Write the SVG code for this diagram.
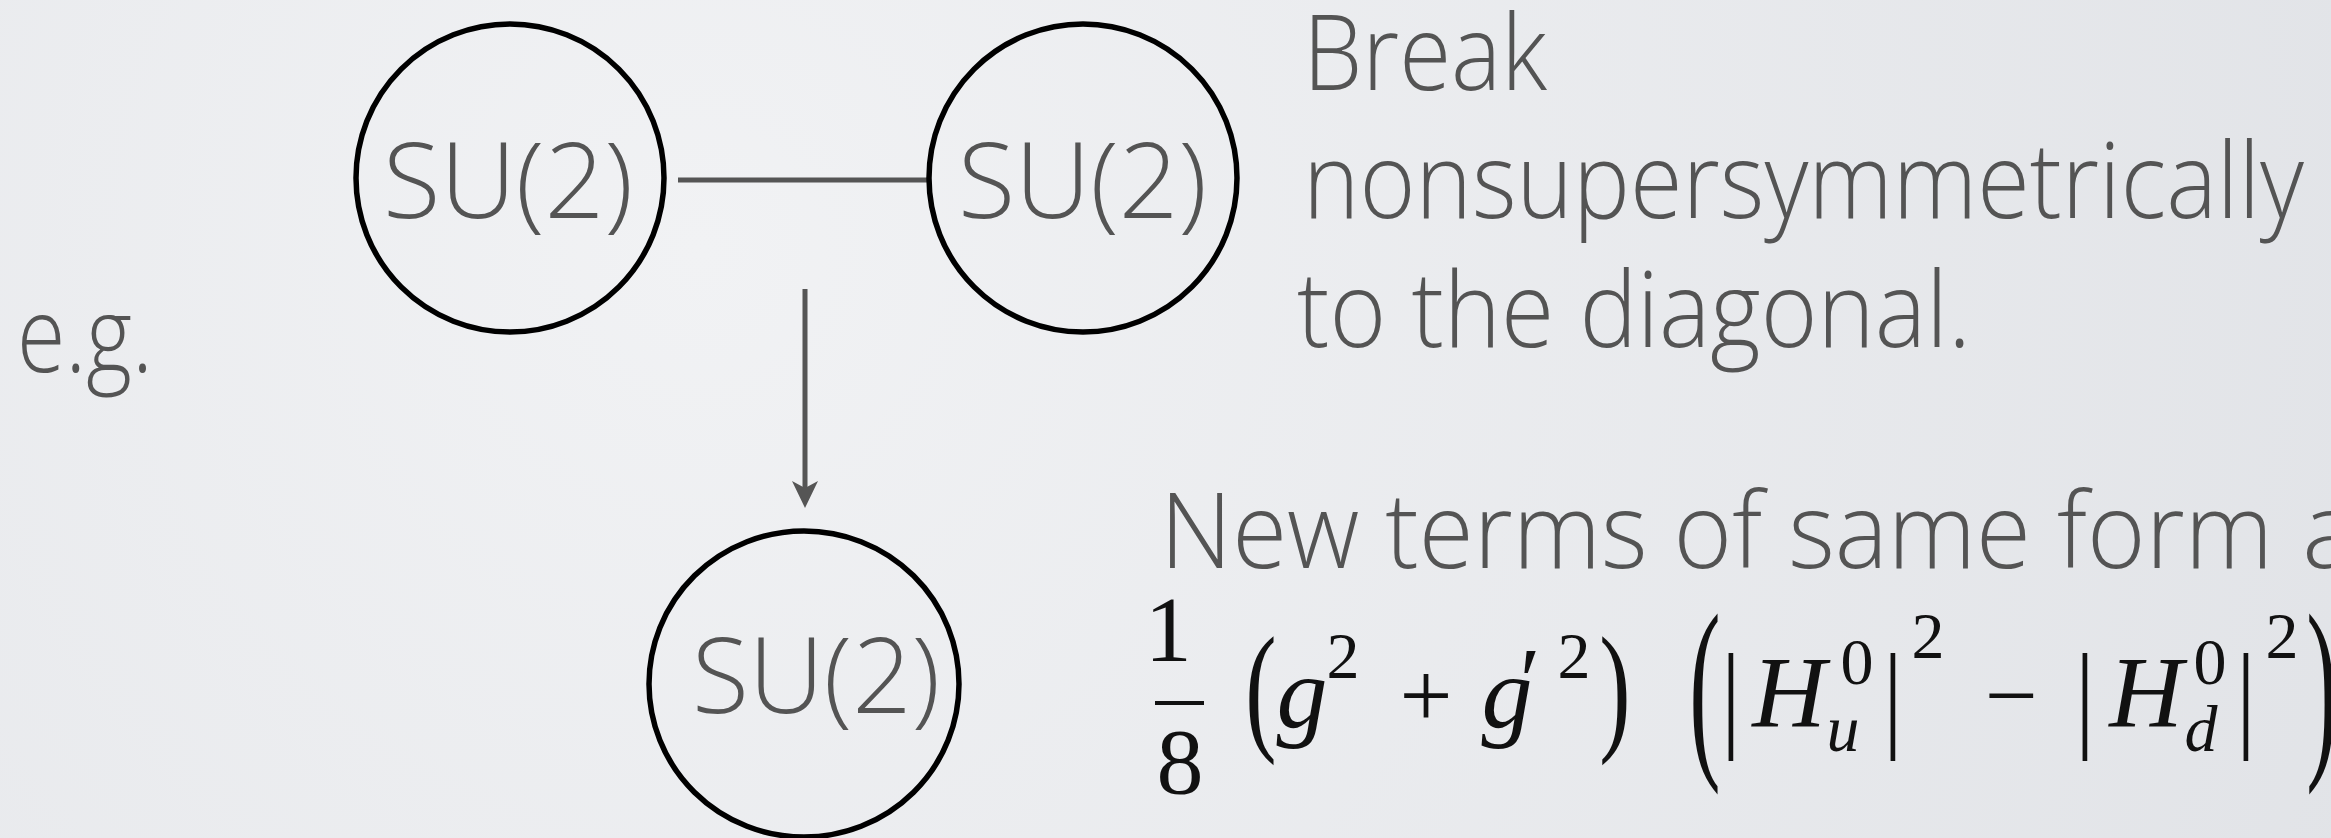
<svg xmlns="http://www.w3.org/2000/svg" width="2331" height="838" viewBox="0 0 2331 838">
<defs>
<radialGradient id="bg" cx="700" cy="250" r="1800" gradientUnits="userSpaceOnUse">
<stop offset="0" stop-color="#f1f2f4"/>
<stop offset="1" stop-color="#e1e3e7"/>
</radialGradient>
<style>
.node{fill:none;stroke:#000;stroke-width:5.5}
.lbl{font-family:"Open Sans","Liberation Sans",sans-serif;font-weight:300;font-size:106px;fill:#545454}
.conn{stroke:#555;stroke-width:5;fill:none}
.m{font-family:"Liberation Serif","DejaVu Serif",serif;font-size:94px;fill:#111}
.mi{font-style:italic;font-size:102px}
.sup{font-size:66px}
</style>
</defs>
<rect width="2331" height="838" fill="url(#bg)"/>

<g id="connectors">
<line class="conn" x1="678" y1="180" x2="930" y2="180"/>
<line class="conn" x1="805" y1="289" x2="805" y2="490" stroke-width="4.5"/>
<path d="M805 508 L792 481 L805 488 L818 481 Z" fill="#555"/>
</g>

<g id="node-su2-left">
<circle class="node" cx="510" cy="178" r="154"/>
<text class="lbl" x="383" y="218" textLength="250" lengthAdjust="spacingAndGlyphs">SU(2)</text>
</g>
<g id="node-su2-right">
<circle class="node" cx="1083" cy="178" r="154"/>
<text class="lbl" x="958" y="218" textLength="249" lengthAdjust="spacingAndGlyphs">SU(2)</text>
</g>
<g id="node-su2-bottom">
<ellipse class="node" cx="804" cy="684" rx="155" ry="153"/>
<text class="lbl" x="692" y="713" textLength="248" lengthAdjust="spacingAndGlyphs">SU(2)</text>
</g>

<g id="label-eg">
<text class="lbl" x="17" y="372" textLength="136" lengthAdjust="spacingAndGlyphs">e.g.</text>
</g>

<g id="label-break">
<text class="lbl" x="1303" y="90" textLength="244" lengthAdjust="spacingAndGlyphs">Break</text>
<text class="lbl" x="1303" y="218" textLength="1001" lengthAdjust="spacingAndGlyphs">nonsupersymmetrically</text>
<text class="lbl" x="1297" y="347" textLength="674" lengthAdjust="spacingAndGlyphs">to the diagonal.</text>
</g>

<g id="label-newterms">
<text class="lbl" x="1160" y="568" textLength="1113" lengthAdjust="spacingAndGlyphs">New terms of same form</text>
<text class="lbl" x="2302" y="568">a</text>
</g>

<g id="formula">
<line x1="1155" y1="703" x2="1204" y2="703" stroke="#111" stroke-width="4"/>
<text class="m" text-anchor="middle">
<tspan x="1180" y="661">1</tspan>
<tspan x="1180" y="793">8</tspan>
</text>
<text class="m" text-anchor="middle" transform="translate(1261,735) scale(1,1.5)">(</text>
<text class="m mi" text-anchor="middle" x="1302" y="727">g</text>
<text class="m sup" text-anchor="middle" x="1343" y="678">2</text>
<text class="m" text-anchor="middle" x="1426" y="727">+</text>
<text class="m mi" text-anchor="middle" x="1507" y="727">g</text>
<text class="m" text-anchor="middle" x="1530" y="712" font-size="80">′</text>
<text class="m sup" text-anchor="middle" x="1574" y="678">2</text>
<text class="m" text-anchor="middle" transform="translate(1615,735) scale(1,1.5)">)</text>
<text class="m" text-anchor="middle" transform="translate(1705,752) scale(1,2.12)">(</text>
<text class="m" text-anchor="middle" transform="translate(1731,736) scale(1,1.26)">|</text>
<text class="m mi" text-anchor="middle" x="1789" y="727">H</text>
<text class="m sup" text-anchor="middle" x="1857" y="684">0</text>
<text class="m mi sup" text-anchor="middle" x="1843" y="751">u</text>
<text class="m" text-anchor="middle" transform="translate(1893,736) scale(1,1.26)">|</text>
<text class="m sup" text-anchor="middle" x="1928" y="658">2</text>
<text class="m" text-anchor="middle" x="2011" y="727">−</text>
<text class="m" text-anchor="middle" transform="translate(2085,736) scale(1,1.26)">|</text>
<text class="m mi" text-anchor="middle" x="2146" y="727">H</text>
<text class="m sup" text-anchor="middle" x="2210" y="684">0</text>
<text class="m mi sup" text-anchor="middle" x="2201" y="751">d</text>
<text class="m" text-anchor="middle" transform="translate(2246,736) scale(1,1.26)">|</text>
<text class="m sup" text-anchor="middle" x="2282" y="658">2</text>
<text class="m" text-anchor="middle" transform="translate(2322,752) scale(1,2.12)">)</text>
</g>
</svg>
